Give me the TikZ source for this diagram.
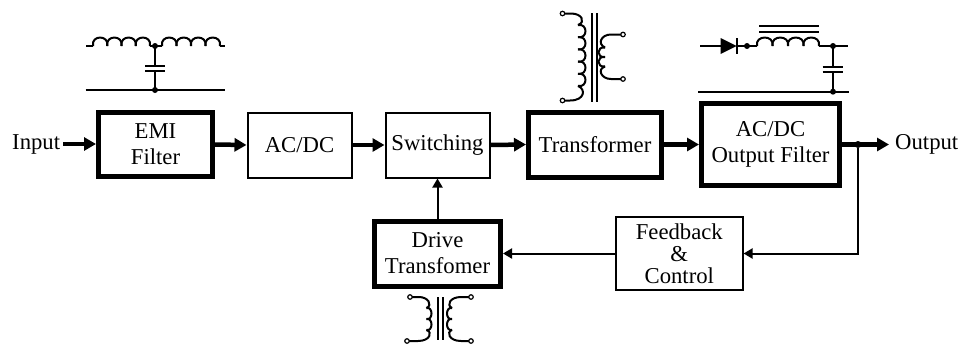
\documentclass[tikz,border=0pt]{standalone}
\usepackage{fontspec}
\setmainfont{Liberation Serif}
\usetikzlibrary{arrows.meta}
\newcommand{\coilH}[5]{% x0,y,n,pitch,height (humps upward)
  \foreach \ci in {1,...,#3}{
    \draw[wire] ({#1+(\ci-1)*#4},#2) .. controls ({#1+(\ci-1)*#4-0.15*#4},{#2-1.33*#5}) and ({#1+\ci*#4+0.15*#4},{#2-1.33*#5}) .. ({#1+\ci*#4},#2);
  }}
\newcommand{\coilV}[5]{% x,y0,n,pitch,bulge (signed)
  \foreach \ci in {1,...,#3}{
    \draw[wire] (#1,{#2+(\ci-1)*#4}) .. controls ({#1+1.33*#5},{#2+(\ci-1)*#4-0.15*#4}) and ({#1+1.33*#5},{#2+\ci*#4+0.15*#4}) .. (#1,{#2+\ci*#4});
  }}
\tikzset{
  x=1pt,y=-1pt,
  txt/.style={font=\fontsize{22.7}{26}\selectfont,align=center,inner sep=0pt},
  thinbox/.style={draw,line width=2pt,txt},
  thickbox/.style={draw,line width=5pt,txt},
  bigflow/.style={line width=4.5pt,-{Triangle[length=12pt,width=13pt]}},
  sigflow/.style={line width=2pt,-{Triangle[length=9pt,width=10pt]}},
  wire/.style={line width=2pt,line cap=butt},
  dotn/.style={circle,fill,inner sep=0pt,minimum size=7pt},
  term/.style={circle,draw,fill=white,line width=1.2pt,inner sep=0pt,minimum size=4.5pt},
}
\begin{document}
\begin{tikzpicture}
\useasboundingbox (0,0) rectangle (959,343);
% blocks
\node[thickbox,minimum width=114pt,minimum height=64pt] (emi) at (155.5,144.5) {EMI\\Filter};
\node[thinbox,minimum width=104pt,minimum height=65pt] (acdc) at (299.5,145) {AC/DC};
\node[thinbox,minimum width=104pt,minimum height=65pt] (sw) at (437.5,145) {Switching};
\node[thickbox,minimum width=133pt,minimum height=65pt] (tr) at (595,144.5) {Transformer};
\node[thickbox,minimum width=138pt,minimum height=82pt] (out) at (770.5,144.5) {AC/DC\\Output Filter};
\node[thinbox,minimum width=126.5pt,minimum height=73.5pt,font=\fontsize{22.7}{22}\selectfont] (fb) at (679.3,253.5) {Feedback\\\&\\Control};
\node[thickbox,minimum width=126pt,minimum height=65pt] (drv) at (437.5,253.5) {Drive\\Transfomer};
\node[txt,anchor=west] (inp) at (12,144) {Input};
\node[txt,anchor=west] (outp) at (895,144) {Output};
\node[dotn] (j) at (858,144.5) {};
% connectors
\draw[bigflow,shorten <=3pt] (inp.east) -- (inp.east -| emi.west);
\draw[bigflow] (emi.east) -- (acdc.west);
\draw[bigflow] (acdc.east) -- (sw.west);
\draw[bigflow] (sw.east) -- (tr.west);
\draw[bigflow] (tr.east) -- (out.west);
\draw[bigflow,shorten >=6pt] (out.east) -- (out.east -| outp.west);
\draw[sigflow] (j) |- (fb.east);
\draw[sigflow] (fb.west) -- (drv.east);
\draw[sigflow] (drv.north) -- (sw.south);
% EMI filter schematic
\draw[wire] (86,46) -- (93,46);
\coilH{93}{46}{4}{14.25}{8.5}
\draw[wire] (150,46) -- (162,46);
\coilH{162}{46}{4}{14.5}{8.5}
\draw[wire] (220,46) -- (225,46);
\draw[wire] (85.5,90) -- (225,90);
\draw[wire] (155,46) -- (155,65.7) (155,70.7) -- (155,90);
\draw[wire] (145,65.7) -- (165,65.7) (145,70.7) -- (165,70.7);
\fill (155,46) circle (3pt) (155,90) circle (3pt);
% main transformer schematic
\draw[wire] (591.7,13) -- (591.7,101.5) (596.7,13) -- (596.7,101.5);
\draw[wire] (564,13.5) -- (571,13.5) .. controls (582,13.5) and (586,22) .. (578,25);
\coilV{578}{25}{5}{12.2}{7.5}
\draw[wire] (578,86) .. controls (586,89) and (585,100.5) .. (570,100.5) -- (564,100.5);
\node[term] at (562.5,13.5) {};
\node[term] at (562.5,100.5) {};
\draw[wire] (621,34.5) -- (611,34.5) .. controls (601,34.5) and (597,44) .. (605,47.5);
\coilV{605}{47.5}{2}{9.5}{-6.5}
\draw[wire] (605,66.5) .. controls (597,69) and (601,79) .. (611,79) -- (621,79);
\node[term] at (623,34.5) {};
\node[term] at (623,79) {};
% output filter schematic
\draw[wire] (700,46) -- (722,46);
\fill (720.7,38) -- (736.7,46) -- (720.7,54) -- cycle;
\draw[wire] (737.3,38) -- (737.3,54);
\draw[wire] (737,46) -- (757,46);
\fill (747,46) circle (3pt);
\coilH{757}{46}{4}{15.5}{8.5}
\draw[wire] (819,46) -- (848,46);
\draw[line width=2pt] (759,26.3) -- (819,26.3) (759,32.3) -- (819,32.3);
\draw[wire] (833,46) -- (833,67.3) (833,71.7) -- (833,92);
\draw[wire] (822.5,67.3) -- (843,67.3) (822.5,71.7) -- (843,71.7);
\draw[wire] (698,91.7) -- (849,91.7);
\fill (833,46) circle (3pt) (833,91.7) circle (3pt);
% drive transformer schematic
\draw[wire] (438,297) -- (438,340) (442.5,297) -- (442.5,340);
\draw[wire] (412,297) -- (419,297) .. controls (428,297) and (433,305) .. (426.5,308);
\coilV{426.5}{308}{2}{11}{5}
\draw[wire] (426.5,330) .. controls (433,332) and (430,341) .. (418,341) -- (409,341);
\node[term] at (410,297) {};
\node[term] at (407,341) {};
\draw[wire] (469,297) -- (461,297) .. controls (450,297) and (446,305) .. (452,308);
\coilV{452}{308}{2}{11}{-5}
\draw[wire] (452,330) .. controls (446,332) and (449,341) .. (461,341) -- (469,341);
\node[term] at (471,297) {};
\node[term] at (471,341) {};
\end{tikzpicture}
\end{document}
